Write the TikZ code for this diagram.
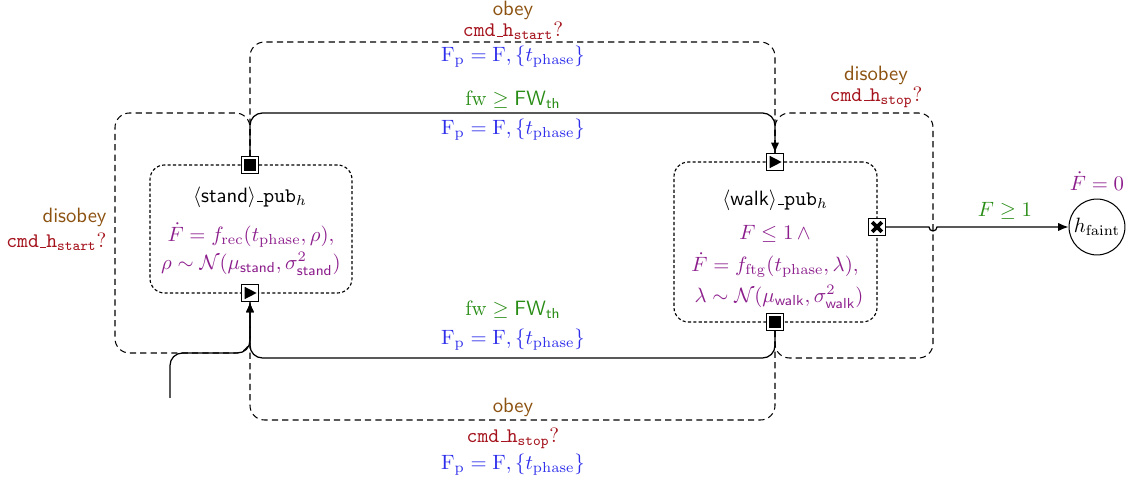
\documentclass[tikz,border=0pt]{standalone}
\usetikzlibrary{arrows.meta}
\definecolor{obeybrown}{RGB}{140,82,16}
\definecolor{cmdred}{RGB}{165,20,30}
\definecolor{fpblue}{RGB}{45,45,235}
\definecolor{guardgreen}{RGB}{40,140,20}
\definecolor{dynpurple}{RGB}{140,30,140}
\newcommand{\myus}{\leavevmode\kern.06em\vbox{\hrule width.3em}}
\newcommand{\cmdh}[1]{\textcolor{cmdred}{\texttt{cmd\myus h}$_{\mathtt{#1}}$?}}
\newcommand{\fpupd}{\textcolor{fpblue}{$\mathrm{F_p} = \mathrm{F}, \{t_{\mathrm{phase}}\}$}}
\newcommand{\fwg}{\textcolor{guardgreen}{$\mathrm{fw} \geq \mathsf{FW}_{\mathsf{th}}$}}
\begin{document}
\begin{tikzpicture}[x=0.483pt,y=-0.483pt,
  statebox/.style={draw, rounded corners=7pt, dash pattern=on 1.5pt off 1.1pt, line width=0.55pt, inner sep=0pt},
  portbase/.style={draw, fill=white, minimum size=8.2pt, inner sep=0pt, line width=0.5pt},
  portsq/.style={portbase, path picture={\fill[black] ([shift={(1pt,1pt)}]path picture bounding box.south west) rectangle ([shift={(-1pt,-1pt)}]path picture bounding box.north east);}},
  porttri/.style={portbase, path picture={\fill[black] ([shift={(-2.6pt,-3pt)}]path picture bounding box.center) -- ([shift={(3.2pt,0pt)}]path picture bounding box.center) -- ([shift={(-2.6pt,3pt)}]path picture bounding box.center) -- cycle;}},
  portx/.style={portbase, path picture={\draw[black, line width=1.8pt] ([shift={(-2.3pt,-2.3pt)}]path picture bounding box.center) -- ([shift={(2.3pt,2.3pt)}]path picture bounding box.center); \draw[black, line width=1.8pt] ([shift={(-2.3pt,2.3pt)}]path picture bounding box.center) -- ([shift={(2.3pt,-2.3pt)}]path picture bounding box.center);}},
  trans/.style={semithick, rounded corners=6pt},
  loopd/.style={line width=0.5pt, dash pattern=on 3pt off 2pt, rounded corners=7pt},
  tip/.style={-{Latex[length=5pt,width=4pt]}},
  lbl/.style={inner sep=1pt},
  act/.style={lbl, text=obeybrown, font=\sffamily},
  dyn/.style={inner sep=0pt, text=dynpurple}
]
\useasboundingbox (0,0) rectangle (1133,487);

% states
\node[statebox, minimum width=202*0.483pt, minimum height=128*0.483pt] (stand) at (251,229) {};
\node[statebox, minimum width=203*0.483pt, minimum height=160*0.483pt] (walk) at (775.5,242) {};
\node[draw, circle, minimum size=27pt, inner sep=0pt, line width=0.5pt] (faint) at (1097,227) {$h_{\mathrm{faint}}$};

% ports
\node[portsq] (stop) at (250,165) {};
\node[porttri] (sbot) at (250,293) {};
\node[porttri] (wtop) at (775,162) {};
\node[portsq] (wbot) at (775,322) {};
\node[portx] (wx) at (877,227) {};

% state texts
\node[lbl] (standname) at (250,197) {\textsf{$\langle$stand$\rangle$}\myus\texttt{pub}$_h$};
\node[dyn] (standdyn1) at (251,235) {$\dot F = f_{\mathrm{rec}}(t_{\mathrm{phase}}, \rho),$};
\node[dyn] (standdyn2) at (251,264) {$\rho \sim \mathcal{N}(\mu_{\mathsf{stand}}, \sigma^2_{\mathsf{stand}})$};
\node[lbl] (walkname) at (775,200) {\textsf{$\langle$walk$\rangle$}\myus\texttt{pub}$_h$};
\node[dyn] (walkinv) at (775,234) {$F \leq 1\, \wedge$};
\node[dyn] (walkdyn1) at (775,265) {$\dot F = f_{\mathrm{ftg}}(t_{\mathrm{phase}}, \lambda),$};
\node[dyn] (walkdyn2) at (779,297) {$\lambda \sim \mathcal{N}(\mu_{\mathsf{walk}}, \sigma^2_{\mathsf{walk}})$};
\node[dyn] (faintdyn) at (1097,181) {$\dot F = 0$};

% dashed loops (command events)
\draw[loopd] (stop.north) -- (250,42) -- (775,42) -- (wtop.north);
\draw[loopd] (stop.north) -- (250,113) -- (115,113) -- (115,353) -- (250,353) -- (sbot.south);
\draw[loopd] (wbot.south) -- (775,358) -- (933,358) -- (933,113) -- (775,113) -- (wtop.north);
\draw[loopd] (wbot.south) -- (775,420) -- (250,420) -- (sbot.south);

% solid transitions
\draw[trans, tip] (stop.north) -- (250,113) -- (775,113) -- (wtop.north);
\draw[trans, tip] (wbot.south) -- (775,358) -- (250,358) -- (sbot.south);
\coordinate (init) at (170,398);
\draw[trans, tip] (init) -- (170,353) -- (250,353) -- (sbot.south);
\draw[semithick, tip] (wx.east) -- (929,227) arc (180:0:4) -- (faint.west);

% labels
\node[act] (l1a) at (513,10) {obey};
\node[lbl] (l1b) at (513,31) {\cmdh{start}};
\node[lbl] (l1c) at (513,57) {\fpupd};
\node[lbl] (l2a) at (513,100) {\fwg};
\node[lbl] (l2b) at (513,130) {\fpupd};
\node[act] (l3a) at (876,75) {disobey};
\node[lbl] (l3b) at (876,97) {\cmdh{stop}};
\node[act, anchor=east] (l4a) at (109,217) {disobey};
\node[lbl, anchor=east] (l4b) at (109,242) {\cmdh{start}};
\node[lbl] (l5a) at (513,310) {\fwg};
\node[lbl] (l5b) at (513,340) {\fpupd};
\node[act] (l6a) at (513,407) {obey};
\node[lbl] (l6b) at (513,438) {\cmdh{stop}};
\node[lbl] (l6c) at (513,465) {\fpupd};
\node[lbl, text=guardgreen] (l7) at (1005,211) {$F \geq 1$};
\end{tikzpicture}
\end{document}
